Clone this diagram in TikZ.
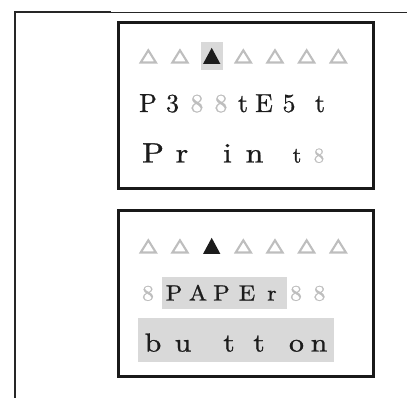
\documentclass[tikz,border=0pt]{standalone}
\usepackage{fontspec}
\setmainfont{lmroman10-regular}[Extension=.otf,FakeBold=0.9]
\usepackage{graphicx}
\definecolor{ink}{HTML}{1C1C1C}
\definecolor{dim}{HTML}{BEBEBE}
\definecolor{hl}{HTML}{D9D9D9}
\newcommand{\fsz}[1]{\fontsize{#1}{#1}\selectfont}
\begin{document}
\begin{tikzpicture}[x=1pt,y=-1pt,
  ch/.style={inner sep=0pt,anchor=base,text=ink},
  gch/.style={ch,text=dim},
  tri/.style={draw=dim,line width=2.1pt,line join=miter},
  blacktri/.style={fill=ink,draw=none},
  panel/.style={draw=black!90,line width=2.3pt},
  hlbox/.style={fill=hl,draw=none}]
\useasboundingbox (0,0) rectangle (407,398);
% outer frame
\draw[line width=1.8pt,black!85] (15,398) -- (15,12) -- (111,12);
\draw[line width=0.8pt,black!85] (111,12) -- (382,12);
\draw[line width=1.5pt,black!85] (382,12.4) -- (407,12.4);
% panels
\draw[panel] (118.5,22.5) rectangle (373.5,188.5);
\draw[panel] (118.5,210.5) rectangle (373.5,376.5);
% highlights
\fill[hlbox] (200.7,42.5) rectangle (223.3,70);
\fill[hlbox] (161.7,277.3) rectangle (286.5,309.3);
\fill[hlbox] (138,318.3) rectangle (334,361.7);
% triangles, panel 1
\foreach \i in {0,1,3,4,5,6} {
  \pgfmathsetmacro{\cx}{148.3+31.67*\i}
  \draw[tri] (\cx-7.6,62.5) -- (\cx,50.3) -- (\cx+7.6,62.5) -- cycle;
}
\fill[blacktri] (211.7-8.7,64) -- (211.7,47.8) -- (211.7+8.7,64) -- cycle;
% triangles, panel 2
\foreach \i in {0,1,3,4,5,6} {
  \pgfmathsetmacro{\cx}{148.3+31.67*\i}
  \draw[tri] (\cx-7.6,252.5) -- (\cx,240.3) -- (\cx+7.6,252.5) -- cycle;
}
\fill[blacktri] (211.7-8.7,254) -- (211.7,237.8) -- (211.7+8.7,254) -- cycle;
% row: P388 tE5t
\foreach \x/\c/\s [count=\k] in {148/P/ch,172.5/3/ch,197/8/gch,221/8/gch,243/t/ch,264/E/ch,289/5/ch,320/t/ch}
  \node[\s,font=\fsz{26}] (a\k) at (\x,112) {\c};
% row: Print8
\foreach \x/\c [count=\k] in {153/P,182/r,227.5/i,254.5/n}
  \node[ch,font=\fsz{28}] (b\k) at (\x,162.5) {\scalebox{1.15}[1]{\c}};
\node[ch,font=\fsz{22}] (b5) at (297,162.5) {t};
\node[gch,font=\fsz{21}] (b6) at (319,162.5) {8};
% row: 8PAPEr88
\foreach \x/\c/\s [count=\k] in {148/8/gch,174/P/ch,198/A/ch,221.5/P/ch,247/E/ch,272/r/ch,296/8/gch,319.5/8/gch}
  \node[\s,font=\fsz{22}] (c\k) at (\x,300.5) {\scalebox{1.1}[1]{\c}};
% row: button
\foreach \x/\c [count=\k] in {153/b,183/u,229/t,259/t,296.5/o,319/n}
  \node[ch,font=\fsz{26}] (d\k) at (\x,351.5) {\scalebox{1.15}[1]{\c}};
\end{tikzpicture}
\end{document}
